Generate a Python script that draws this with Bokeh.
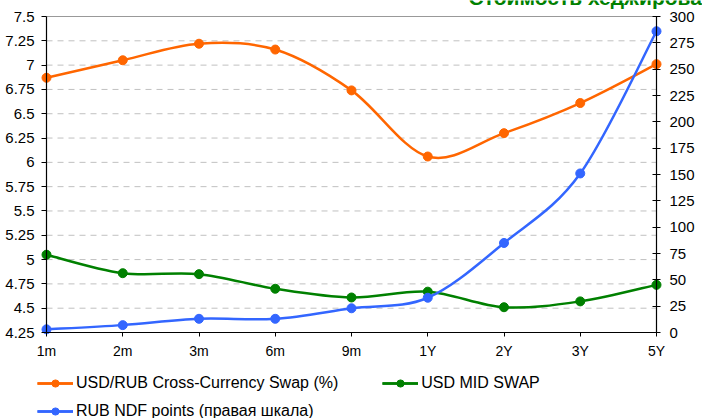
import numpy as np
from bokeh.plotting import figure
from bokeh.models import (Range1d, LinearAxis, FixedTicker, Legend, LegendItem,
                          ColumnDataSource, Label)
from bokeh.embed import file_html
from bokeh.resources import INLINE

# ---------------- data ----------------
title_text = "Стоимость хеджирования"
categories = ["1m", "2m", "3m", "6m", "9m", "1Y", "2Y", "3Y", "5Y"]
ccs_swap = [6.87, 7.05, 7.22, 7.16, 6.74, 6.06, 6.30, 6.61, 7.01]      # USD/RUB Cross-Currency Swap (%)
usd_mid_swap = [5.05, 4.86, 4.85, 4.70, 4.61, 4.67, 4.51, 4.57, 4.74]  # USD MID SWAP
rub_ndf = [3, 7, 13, 13, 23, 33, 85, 151, 286]                         # RUB NDF points (right axis)

left_ticks = [4.25, 4.5, 4.75, 5.0, 5.25, 5.5, 5.75, 6.0, 6.25, 6.5, 6.75, 7.0, 7.25, 7.5]
left_labels = ["4.25", "4.5", "4.75", "5", "5.25", "5.5", "5.75", "6", "6.25", "6.5", "6.75", "7", "7.25", "7.5"]
right_ticks = [0, 25, 50, 75, 100, 125, 150, 175, 200, 225, 250, 275, 300]

ORANGE = "#FF6600"
GREEN = "#008000"
BLUE = "#3366FF"
FONT = "Liberation Sans"

# ---------------- layout (canvas pixels) ----------------
CW, CH = 702, 418                 # whole canvas = plotting frame
AX_L, AX_R = 46, 656              # x pixel of first / last category
AX_T, AX_B = 16, 332              # y pixel of top / bottom of the value axes

xs = list(range(len(categories)))
xmax = xs[-1]
ylo, yhi = left_ticks[0], left_ticks[-1]
rlo, rhi = right_ticks[0], right_ticks[-1]

ppx = (AX_R - AX_L) / xmax
ppy = (AX_B - AX_T) / (yhi - ylo)
ppr = (AX_B - AX_T) / (rhi - rlo)

p = figure(frame_width=CW, frame_height=CH,
           x_range=Range1d(-AX_L / ppx, xmax + (CW - AX_R) / ppx),
           y_range=Range1d(ylo - (CH - AX_B) / ppy, yhi + AX_T / ppy),
           output_backend="svg", toolbar_location=None,
           min_border=0, x_axis_location=None, y_axis_location=None)
p.extra_y_ranges = {"right": Range1d(rlo - (CH - AX_B) / ppr, rhi + AX_T / ppr)}
p.outline_line_color = None
p.xgrid.visible = False
p.ygrid.visible = False
p.background_fill_color = "white"
p.border_fill_color = "white"

# dashed gridlines and the solid grey top line
for t in left_ticks[1:-1]:
    p.segment(x0=0, y0=t, x1=xmax, y1=t, line_color="#C0C0C0", line_width=1, line_dash="6 5")
p.segment(x0=0, y0=yhi, x1=xmax, y1=yhi, line_color="#999999", line_width=1.2)


def smooth_segments(xv, yv):
    n = len(xv)
    d = dict(x0=[], y0=[], x1=[], y1=[], cx0=[], cy0=[], cx1=[], cy1=[])
    for i in range(n - 1):
        a = i - 1 if i > 0 else i
        b = i + 2 if i + 2 < n else i + 1
        d["x0"].append(xv[i]); d["y0"].append(yv[i])
        d["x1"].append(xv[i + 1]); d["y1"].append(yv[i + 1])
        d["cx0"].append(xv[i] + (xv[i + 1] - xv[a]) / 6.0)
        d["cy0"].append(yv[i] + (yv[i + 1] - yv[a]) / 6.0)
        d["cx1"].append(xv[i + 1] - (xv[b] - xv[i]) / 6.0)
        d["cy1"].append(yv[i + 1] - (yv[b] - yv[i]) / 6.0)
    return ColumnDataSource(d)


def series(yv, color, range_name="default"):
    bz = p.bezier(x0="x0", y0="y0", x1="x1", y1="y1", cx0="cx0", cy0="cy0", cx1="cx1", cy1="cy1",
                  source=smooth_segments(xs, yv), line_color=color, line_width=2.5,
                  y_range_name=range_name)
    sc = p.scatter(xs, yv, size=9, fill_color=color, line_color=color, y_range_name=range_name)
    # legend-only line (no visible points)
    ln = p.line(x="x", y="y", source=ColumnDataSource(dict(x=np.array([np.nan]), y=np.array([np.nan]))),
                line_color=color, line_width=2.5, y_range_name=range_name)
    return [bz, ln, sc]


# ---------------- axes (fixed inside the frame) ----------------
def style_axis(ax, size):
    ax.axis_line_color = "#000000"
    ax.axis_line_width = 1.2
    ax.minor_tick_line_color = None
    ax.major_tick_line_color = "#000000"
    ax.major_label_text_font = FONT
    ax.major_label_text_font_size = size
    ax.major_label_text_color = "#000000"


ya = LinearAxis(ticker=FixedTicker(ticks=left_ticks), fixed_location=0, bounds=(ylo, yhi))
ya.major_label_overrides = {t: l for t, l in zip(left_ticks, left_labels)}
style_axis(ya, "15px")
ya.major_tick_in = 0
ya.major_tick_out = 5
ya.major_label_standoff = 7
p.add_layout(ya, "left")

ra = LinearAxis(y_range_name="right", ticker=FixedTicker(ticks=right_ticks),
                fixed_location=xmax, bounds=(rlo, rhi))
style_axis(ra, "15px")
ra.major_tick_in = 4
ra.major_tick_out = 4
ra.major_label_standoff = 9
p.add_layout(ra, "right")

xa = LinearAxis(ticker=FixedTicker(ticks=xs), fixed_location=ylo, bounds=(0, xmax))
xa.major_label_overrides = {i: c for i, c in enumerate(categories)}
style_axis(xa, "14px")
xa.major_tick_in = 0
xa.major_tick_out = 4
xa.major_label_standoff = 6
p.add_layout(xa, "below")

r_ccs = series(ccs_swap, ORANGE)
r_mid = series(usd_mid_swap, GREEN)
r_ndf = series(rub_ndf, BLUE, "right")

# ---------------- title (cut off by the top edge, as in the source) ----------------
p.add_layout(Label(x=468, y=CH + 3, x_units="screen", y_units="screen", text=title_text,
                   text_font=FONT, text_font_size="21px", text_font_style="bold",
                   text_color=GREEN, text_align="left", text_baseline="alphabetic"))

# ---------------- legends ----------------
common = dict(padding=0, margin=0, border_line_color=None, background_fill_alpha=0,
              glyph_width=36, glyph_height=18, label_height=18, label_standoff=3,
              label_text_font=FONT, label_text_font_size="16px", label_text_color="#000000")
legA = Legend(items=[LegendItem(label="USD/RUB Cross-Currency Swap (%)", renderers=r_ccs),
                     LegendItem(label="USD MID SWAP", renderers=r_mid)],
              orientation="horizontal", spacing=44, location=(37, 26), **common)
legB = Legend(items=[LegendItem(label="RUB NDF points (правая шкала)", renderers=r_ndf)],
              orientation="horizontal", location=(37, -2), **common)
p.add_layout(legA)
p.add_layout(legB)

open("out.html", "w").write(file_html(p, INLINE))
